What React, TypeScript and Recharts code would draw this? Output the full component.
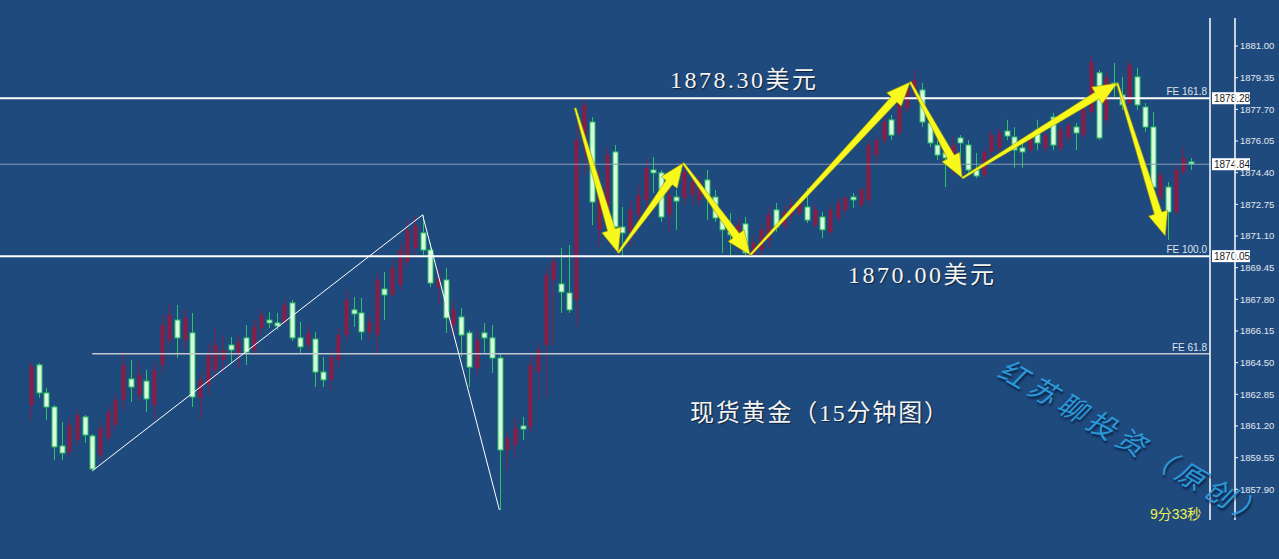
import { Bar, ComposedChart, ReferenceLine, XAxis, YAxis } from 'recharts';

// 15-minute spot gold candles, oldest first
const opens = [
  1862.29, 1864.38, 1862.92, 1862.19, 1860.16, 1859.85, 1860.47, 1861.67, 1860.68, 1859.69,
  1860.58, 1861.25, 1862.56, 1863.65, 1862.81, 1863.54, 1862.29, 1864.38, 1865.68, 1866.72,
  1865.68, 1866.05, 1862.66, 1863.34, 1864.12, 1864.64, 1865.42, 1864.9, 1865.79, 1865.16,
  1866.31, 1866.72, 1866.57, 1866.62, 1867.61, 1865.79, 1865.42, 1865.73, 1864.01, 1863.6,
  1864.64, 1865.94, 1867.25, 1867.09, 1866.1, 1865.94, 1868.34, 1868.03, 1868.55, 1869.75,
  1870.48, 1871.26, 1870.37, 1868.44, 1868.81, 1866.46, 1866.88, 1866.05, 1864.22, 1866.05,
  1865.79, 1864.74, 1859.95, 1860.21, 1861.2, 1861.15, 1864.01, 1865.42, 1868.81, 1868.6,
  1868.13, 1867.77, 1875.84, 1877.04, 1871.42, 1871.67, 1875.48, 1871.57, 1871.31, 1872.2,
  1872.98, 1874.54, 1874.39, 1872.2, 1873.13, 1873.08, 1873.24, 1872.98, 1874.02, 1873.13,
  1872.04, 1871.52, 1870.63, 1871.73, 1870.16, 1870.37, 1870.9, 1872.46, 1871.67, 1872.2,
  1872.3, 1872.61, 1871.67, 1872.09, 1871.31, 1872.04, 1872.46, 1873.13, 1872.72, 1872.98,
  1875.32, 1876.1, 1877.15, 1876.47, 1877.77, 1878.55, 1878.71, 1876.99, 1875.84, 1875.43,
  1874.8, 1876.21, 1875.84, 1874.54, 1874.28, 1875.48, 1875.69, 1876.57, 1876.26, 1875.69,
  1875.58, 1876.63, 1875.69, 1877.3, 1875.69, 1876.21, 1876.78, 1876.36, 1877.56, 1879.6,
  1877.15, 1879.07, 1878.45, 1878.03, 1879.39, 1877.82, 1876.78, 1873.13, 1873.65, 1872.35,
  1874.44, 1874.96,
];
const highs = [
  1864.53, 1864.48, 1863.18, 1862.29, 1861.41, 1861.62, 1862.03, 1861.77, 1860.78, 1861.41,
  1862.29, 1862.81, 1865.05, 1864.64, 1864.53, 1864.12, 1864.53, 1866.99, 1867.51, 1867.51,
  1867.25, 1867.09, 1864.01, 1865.53, 1866.31, 1865.94, 1865.84, 1865.94, 1866.46, 1866.72,
  1867.25, 1867.14, 1867.09, 1867.87, 1867.77, 1866.62, 1866.46, 1866.1, 1864.79, 1865.16,
  1866.31, 1868.29, 1867.92, 1867.87, 1866.99, 1869.17, 1869.23, 1869.85, 1870.74, 1871.93,
  1872.14, 1872.2, 1870.74, 1869.33, 1869.43, 1867.77, 1867.35, 1866.2, 1866.2, 1866.57,
  1866.46, 1865.0, 1860.89, 1861.62, 1861.67, 1864.9, 1865.53, 1869.43, 1870.11, 1870.48,
  1870.63, 1876.89, 1878.29, 1877.3, 1874.54, 1875.69, 1875.84, 1872.61, 1872.98, 1873.76,
  1875.17, 1875.22, 1874.54, 1873.6, 1873.5, 1874.8, 1874.28, 1874.18, 1874.54, 1873.5,
  1872.35, 1872.3, 1872.04, 1872.09, 1871.1, 1871.78, 1872.61, 1872.82, 1872.72, 1873.13,
  1873.08, 1873.6, 1872.72, 1872.35, 1872.72, 1873.08, 1873.24, 1873.34, 1873.65, 1876.1,
  1876.31, 1877.25, 1877.41, 1878.55, 1879.07, 1879.75, 1879.07, 1877.25, 1876.1, 1875.95,
  1876.26, 1876.36, 1876.1, 1875.43, 1875.69, 1876.63, 1876.73, 1877.15, 1876.78, 1876.1,
  1876.36, 1877.15, 1876.52, 1877.51, 1876.78, 1877.04, 1876.99, 1877.93, 1880.48, 1879.75,
  1879.6, 1880.12, 1879.39, 1880.27, 1879.86, 1878.03, 1877.56, 1874.44, 1873.91, 1874.8,
  1875.74, 1875.17,
];
const lows = [
  1861.51, 1862.66, 1861.51, 1859.43, 1859.43, 1859.64, 1860.21, 1860.32, 1858.86, 1859.43,
  1860.37, 1860.99, 1862.03, 1862.45, 1862.45, 1861.93, 1861.51, 1864.01, 1865.42, 1864.74,
  1865.16, 1862.19, 1861.51, 1862.81, 1863.7, 1864.01, 1864.48, 1864.22, 1864.38, 1864.9,
  1865.94, 1866.31, 1866.2, 1866.46, 1865.63, 1865.0, 1865.16, 1863.23, 1863.23, 1863.08,
  1864.27, 1865.68, 1866.36, 1865.68, 1865.68, 1864.79, 1866.72, 1867.92, 1868.29, 1869.49,
  1870.11, 1870.11, 1868.44, 1867.51, 1866.05, 1865.94, 1864.79, 1863.23, 1863.86, 1865.0,
  1863.96, 1856.82, 1858.91, 1859.53, 1860.47, 1860.89, 1862.56, 1862.66, 1865.42, 1867.09,
  1867.09, 1866.36, 1874.28, 1871.67, 1870.53, 1871.16, 1870.37, 1870.01, 1870.53, 1871.67,
  1872.46, 1873.34, 1871.83, 1871.31, 1871.42, 1872.72, 1872.72, 1872.61, 1871.93, 1871.83,
  1870.22, 1870.11, 1870.37, 1870.06, 1870.01, 1870.11, 1870.48, 1871.31, 1871.42, 1871.83,
  1872.14, 1871.78, 1871.52, 1871.0, 1871.16, 1871.83, 1872.3, 1872.56, 1872.56, 1872.72,
  1874.8, 1875.84, 1876.1, 1876.26, 1877.56, 1878.35, 1876.78, 1875.74, 1875.06, 1873.65,
  1874.28, 1874.28, 1874.28, 1874.12, 1874.12, 1875.22, 1875.48, 1876.1, 1874.65, 1874.65,
  1875.43, 1875.58, 1875.48, 1875.58, 1875.48, 1876.0, 1875.58, 1876.21, 1877.41, 1876.1,
  1876.89, 1878.35, 1877.67, 1877.93, 1877.67, 1876.52, 1873.5, 1872.98, 1870.9, 1872.2,
  1874.28, 1874.54,
];
const closes = [
  1864.32, 1862.92, 1862.19, 1860.11, 1859.79, 1861.25, 1861.77, 1860.73, 1858.96, 1861.09,
  1861.93, 1862.56, 1864.38, 1863.23, 1863.86, 1862.61, 1864.12, 1866.46, 1866.99, 1865.79,
  1866.83, 1862.71, 1863.6, 1864.9, 1865.42, 1865.16, 1865.16, 1865.58, 1865.05, 1866.36,
  1866.99, 1866.57, 1866.41, 1867.51, 1865.79, 1865.32, 1866.05, 1864.01, 1863.6, 1864.79,
  1865.94, 1867.77, 1867.04, 1866.1, 1866.62, 1868.81, 1868.03, 1869.43, 1870.37, 1871.42,
  1871.67, 1870.37, 1868.65, 1868.91, 1866.83, 1867.25, 1865.94, 1864.27, 1865.68, 1865.79,
  1864.74, 1859.95, 1860.58, 1861.09, 1861.04, 1864.38, 1865.16, 1869.07, 1869.75, 1868.18,
  1867.25, 1876.1, 1877.93, 1872.87, 1873.24, 1875.32, 1871.57, 1871.26, 1872.46, 1873.24,
  1874.65, 1874.39, 1872.09, 1873.24, 1872.92, 1874.44, 1873.91, 1873.91, 1873.13, 1872.04,
  1871.42, 1871.16, 1871.67, 1870.22, 1870.74, 1871.42, 1872.2, 1871.57, 1872.35, 1872.72,
  1872.82, 1871.93, 1872.46, 1871.42, 1872.46, 1872.82, 1873.08, 1872.98, 1873.5, 1875.84,
  1876.1, 1877.04, 1876.36, 1878.35, 1878.81, 1879.23, 1877.04, 1875.95, 1875.32, 1875.17,
  1875.84, 1875.95, 1874.54, 1874.23, 1875.48, 1876.36, 1876.47, 1876.31, 1875.58, 1875.48,
  1876.21, 1875.95, 1876.36, 1875.84, 1876.63, 1876.89, 1876.47, 1877.67, 1880.17, 1876.21,
  1879.33, 1878.92, 1877.93, 1880.01, 1877.93, 1876.78, 1873.65, 1874.28, 1872.35, 1874.54,
  1875.17, 1874.85,
];

const priceTicks = [
  1857.9, 1859.55, 1861.2, 1862.85, 1864.5, 1866.15, 1867.8, 1869.45, 1871.1, 1872.75,
  1874.4, 1876.05, 1877.7, 1879.35, 1881.0,
];

// horizontal levels
const fe1618 = 1878.28;
const fe100 = 1870.05;
const fe618 = 1864.97;
const lastPrice = 1874.84;

// thin white swing lines (bar index, price)
const swingBars = [8, 51, 61];
const swingPrices = [1858.86, 1872.2, 1856.82];

// yellow zigzag arrows (bar position, price)
const arrowBars = [70.86, 76.46, 84.92, 93.65, 114.48, 121.25, 141.43, 147.68];
const arrowPrices = [1877.77, 1870.22, 1874.9, 1870.11, 1879.13, 1874.12, 1879.07, 1871.1];

const BG = '#1f4a7e';
const BULL = '#8a1d45';
const BEAR_LINE = '#2cc266';
const BEAR_FILL = '#d8ffdc';
const PAD_BEFORE = 4;
const PAD_AFTER = 2;

const rows = Array.from({ length: PAD_BEFORE + opens.length + PAD_AFTER }, (_, s) => {
  const i = s - PAD_BEFORE;
  const has = i >= 0 && i < opens.length;
  return {
    k: i,
    open: has ? opens[i] : null,
    high: has ? highs[i] : null,
    low: has ? lows[i] : null,
    close: has ? closes[i] : null,
  };
});

const candleRange = (d: any) => (d.open == null ? null : [d.low, d.high]);

const Candle = (props: any) => {
  const { x, y, width, height, payload } = props;
  if (!payload || payload.open == null || !Number.isFinite(y)) return <g />;
  const { open, close, high, low } = payload;
  const cx = Math.round(x + width / 2) + 0.5;
  const ratio = high === low ? 0 : height / (high - low);
  const top = y + (high - Math.max(open, close)) * ratio;
  const bot = y + (high - Math.min(open, close)) * ratio;
  const bh = Math.max(bot - top, 1.5);
  if (close >= open) {
    return (
      <g>
        <line x1={cx} x2={cx} y1={y} y2={y + height} stroke={BULL} strokeWidth={1} />
        <rect x={cx - 2} y={top} width={4} height={bh} fill={BULL} />
      </g>
    );
  }
  return (
    <g>
      <line x1={cx} x2={cx} y1={y} y2={y + height} stroke={BEAR_LINE} strokeWidth={1} />
      <rect x={cx - 2.5} y={top} width={5} height={bh} fill={BEAR_FILL} stroke={BEAR_LINE} strokeWidth={1} />
    </g>
  );
};

const arrowShape = (p: any) => {
  const { x1, y1, x2, y2 } = p;
  if (![x1, y1, x2, y2].every(Number.isFinite)) return <g />;
  const dx = x2 - x1;
  const dy = y2 - y1;
  const len = Math.hypot(dx, dy) || 1;
  const ux = dx / len;
  const uy = dy / len;
  const nx = -uy;
  const ny = ux;
  const head = 24;
  const bx = x2 - ux * head;
  const by = y2 - uy * head;
  const pts = [
    [x1 + nx, y1 + ny],
    [bx + nx * 4, by + ny * 4],
    [bx + nx * 10, by + ny * 10],
    [x2, y2],
    [bx - nx * 10, by - ny * 10],
    [bx - nx * 4, by - ny * 4],
    [x1 - nx, y1 - ny],
  ];
  return (
    <polygon
      points={pts.map((q) => `${q[0]},${q[1]}`).join(' ')}
      fill="#f8f81c"
      stroke="#8c8c1a"
      strokeWidth={0.6}
    />
  );
};

const tag = (name: string, value: string) => (p: any) => {
  const vb = p.viewBox || {};
  const right = (vb.x ?? 0) + (vb.width ?? 0);
  const y = vb.y ?? 0;
  return (
    <g fontFamily="Liberation Sans, Arial, sans-serif" fontSize={10}>
      {name ? (
        <text x={right - 3} y={y - 3} textAnchor="end" fill="#dfe4ec">
          {name}
        </text>
      ) : null}
      {value ? (
        <g>
          <rect x={right + 2} y={y - 6} width={38} height={12} fill="#ffffff" />
          <text x={right + 4} y={y + 4} fill="#1a1a1a">
            {value}
          </text>
        </g>
      ) : null}
    </g>
  );
};

const serif = '"Liberation Serif", "Noto Sans CJK SC", serif';
const noteStyle: any = {
  position: 'absolute',
  color: '#f4f4f4',
  fontFamily: serif,
  fontSize: 24,
  lineHeight: '24px',
  whiteSpace: 'nowrap',
  textShadow: '1px 1px 1px rgba(0,0,0,0.55)',
};

export default function App() {
  return (
    <div style={{ position: 'relative', width: 1279, height: 559, background: BG, overflow: 'hidden' }}>
      <style>{'body{margin:0}'}</style>
      <ComposedChart
        width={1279}
        height={559}
        data={rows}
        margin={{ top: 18, right: 0, bottom: 39, left: -3.76 }}
        barCategoryGap={0}
      >
        <XAxis dataKey="k" type="category" hide />
        <XAxis xAxisId="n" dataKey="k" type="number" domain={[-4.5, 153.5]} allowDataOverflow hide />
        <YAxis
          yAxisId="p"
          orientation="right"
          width={44}
          type="number"
          domain={[1856.3, 1882.46]}
          allowDataOverflow
          ticks={priceTicks}
          interval={0}
          tickFormatter={(v: number) => v.toFixed(2)}
          tick={{ fill: '#e3e8f0', fontSize: 9.5, fontFamily: 'Liberation Sans, Arial, sans-serif' }}
          tickSize={3}
          tickMargin={2}
          axisLine={{ stroke: '#ffffff', strokeWidth: 1.5 }}
          tickLine={{ stroke: '#ffffff' }}
        />
        <YAxis
          yAxisId="b"
          orientation="right"
          width={25}
          type="number"
          domain={[0, 1]}
          tick={false}
          tickLine={false}
          axisLine={{ stroke: '#ffffff', strokeWidth: 1.5 }}
        />

        <ReferenceLine yAxisId="p" y={lastPrice} stroke="#8a9ab2" strokeWidth={1} label={tag('', lastPrice.toFixed(2))} />
        <ReferenceLine
          yAxisId="p"
          xAxisId="n"
          segment={[
            { x: swingBars[0], y: fe618 },
            { x: 153.5, y: fe618 },
          ]}
          stroke="#c4c8d0"
          strokeWidth={1.5}
          label={tag('FE 61.8', '')}
        />

        <Bar yAxisId="p" dataKey={candleRange} shape={Candle} isAnimationActive={false} />

        <ReferenceLine yAxisId="p" y={fe1618} stroke="#ffffff" strokeWidth={2} label={tag('FE 161.8', fe1618.toFixed(2))} />
        <ReferenceLine yAxisId="p" y={fe100} stroke="#ffffff" strokeWidth={2} label={tag('FE 100.0', fe100.toFixed(2))} />

        {swingBars.slice(1).map((b, i) => (
          <ReferenceLine
            key={`sw${i}`}
            yAxisId="p"
            xAxisId="n"
            segment={[
              { x: swingBars[i], y: swingPrices[i] },
              { x: b, y: swingPrices[i + 1] },
            ]}
            stroke="#ffffff"
            strokeWidth={1}
          />
        ))}

        {arrowBars.slice(1).map((b, i) => (
          <ReferenceLine
            key={`ar${i}`}
            yAxisId="p"
            xAxisId="n"
            segment={[
              { x: arrowBars[i], y: arrowPrices[i] },
              { x: b, y: arrowPrices[i + 1] },
            ]}
            shape={arrowShape}
          />
        ))}
      </ComposedChart>

      <div style={{ ...noteStyle, left: 670, top: 68, letterSpacing: 2.5 }}>1878.30美元</div>
      <div style={{ ...noteStyle, left: 848, top: 263, letterSpacing: 2.5 }}>1870.00美元</div>
      <div style={{ ...noteStyle, left: 690, top: 401, letterSpacing: 1.8 }}>现货黄金（15分钟图）</div>
      <div
        style={{
          position: 'absolute',
          left: 1002,
          top: 350,
          fontSize: 28,
          lineHeight: '30px',
          letterSpacing: 6,
          color: '#2b98d8',
          fontStyle: 'italic',
          fontFamily: '"Noto Sans CJK SC", sans-serif',
          whiteSpace: 'nowrap',
          transform: 'rotate(30deg)',
          transformOrigin: '0 50%',
          textShadow: '2px 2px 2px rgba(5,20,50,0.7)',
        }}
      >
        红苏聊投资（原创）
      </div>
      <div
        style={{
          position: 'absolute',
          left: 1150,
          top: 506,
          fontSize: 14,
          lineHeight: '16px',
          color: '#eef052',
          fontFamily: '"Liberation Sans", "Noto Sans CJK SC", sans-serif',
          whiteSpace: 'nowrap',
        }}
      >
        9分33秒
      </div>
    </div>
  );
}
